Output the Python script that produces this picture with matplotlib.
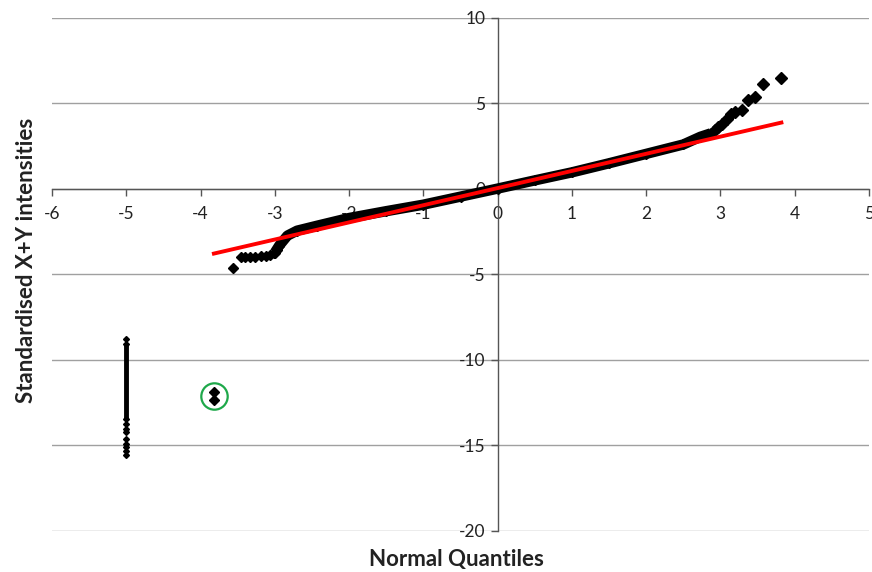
import matplotlib.pyplot as plt

plt.rcParams['font.family'] = ['Lato', 'DejaVu Sans']
plt.rcParams['axes.unicode_minus'] = False

# dense central part of the QQ curve
body_x = [-3.0, -2.94, -2.83, -2.70, -2.43, -2.0, -1.5, -1.0, -0.5, 0.0, 0.5, 1.0, 1.5, 2.0, 2.5, 2.73, 2.87]
body_y = [-3.72, -3.31, -2.73, -2.44, -2.15, -1.7, -1.3, -0.92, -0.45, 0.02, 0.5, 0.97, 1.5, 2.05, 2.6, 3.05, 3.25]

# sparse tails
tail_lo_x = [-3.56, -3.46, -3.40, -3.33, -3.26, -3.19, -3.12, -3.06, -3.01, -2.97]
tail_lo_y = [-4.64, -3.98, -3.97, -3.96, -3.96, -3.95, -3.90, -3.84, -3.72, -3.55]
tail_hi_x = [2.92, 2.96, 3.02, 3.09, 3.14, 3.20, 3.29, 3.37, 3.46, 3.57, 3.81]
tail_hi_y = [3.45, 3.61, 3.80, 4.09, 4.40, 4.50, 4.62, 5.20, 5.40, 6.14, 6.47]

# off-scale column plotted at -5
col_x = -5
col_solid = [-9.16, -13.3]
col_dots = [-8.77, -9.06, -13.45, -13.74, -14.04, -14.23, -14.62, -14.91, -15.11, -15.3, -15.56]

# circled outliers
circ_x = -3.82
circ_y = [-11.85, -12.34]

# fitted line
fit_x = [-3.82, 3.82]
fit_y = [-3.78, 3.88]

xticks = [-6, -5, -4, -3, -2, -1, 0, 1, 2, 3, 4, 5]
yticks = [-20, -15, -10, -5, 0, 5, 10]

fig = plt.figure(figsize=(8.72, 5.72), dpi=100)
ax = fig.add_axes([0.0596, 0.0717, 0.937, 0.897])

ax.set_xlim(-6, 5)
ax.set_ylim(-20, 10)

ax.yaxis.grid(True, color='#a0a0a0', lw=1.0)
ax.set_axisbelow(True)

ax.plot(body_x, body_y, color='black', lw=7.5, solid_capstyle='butt', zorder=3)
ax.plot(body_x, body_y, 'D', color='black', ms=5, zorder=3)
ax.plot(tail_lo_x, tail_lo_y, 'D', color='black', ms=5.5, zorder=3)
ax.plot(tail_hi_x, tail_hi_y, 'D', color='black', ms=6, zorder=3)

ax.plot([col_x, col_x], col_solid, color='black', lw=3.5, zorder=3)
ax.plot([col_x] * len(col_dots), col_dots, 'D', color='black', ms=3, zorder=3)

ax.plot([circ_x] * len(circ_y), circ_y, 'D', color='black', ms=5, zorder=3)
ax.plot([circ_x], [sum(circ_y) / 2], 'o', ms=19, mfc='none', mec='#1ea84a', mew=1.6, zorder=4)

ax.plot(fit_x, fit_y, color='#ff0000', lw=2.8, zorder=4)

for s in ['top', 'right']:
    ax.spines[s].set_visible(False)
ax.spines['left'].set_position(('data', 0))
ax.spines['bottom'].set_position(('data', 0))
for s in ['left', 'bottom']:
    ax.spines[s].set_color('#555555')
    ax.spines[s].set_linewidth(1.0)

ax.set_xticks(xticks)
ax.set_yticks(yticks)
ax.tick_params(axis='x', direction='out', length=5, width=1, color='#555555',
               labelsize=12.5, labelcolor='#222222', pad=7)
ax.tick_params(axis='y', direction='out', length=5, width=1, color='#555555',
               labelsize=12.5, labelcolor='#222222', pad=4)

fig.text(0.524, 0.022, 'Normal Quantiles', ha='center', va='center',
         fontsize=16, fontweight='bold', color='#222222')
fig.text(0.03, 0.545, 'Standardised X+Y intensities', ha='center', va='center',
         rotation=90, fontsize=16, fontweight='bold', color='#222222')

plt.savefig('out.png')
plt.close()
